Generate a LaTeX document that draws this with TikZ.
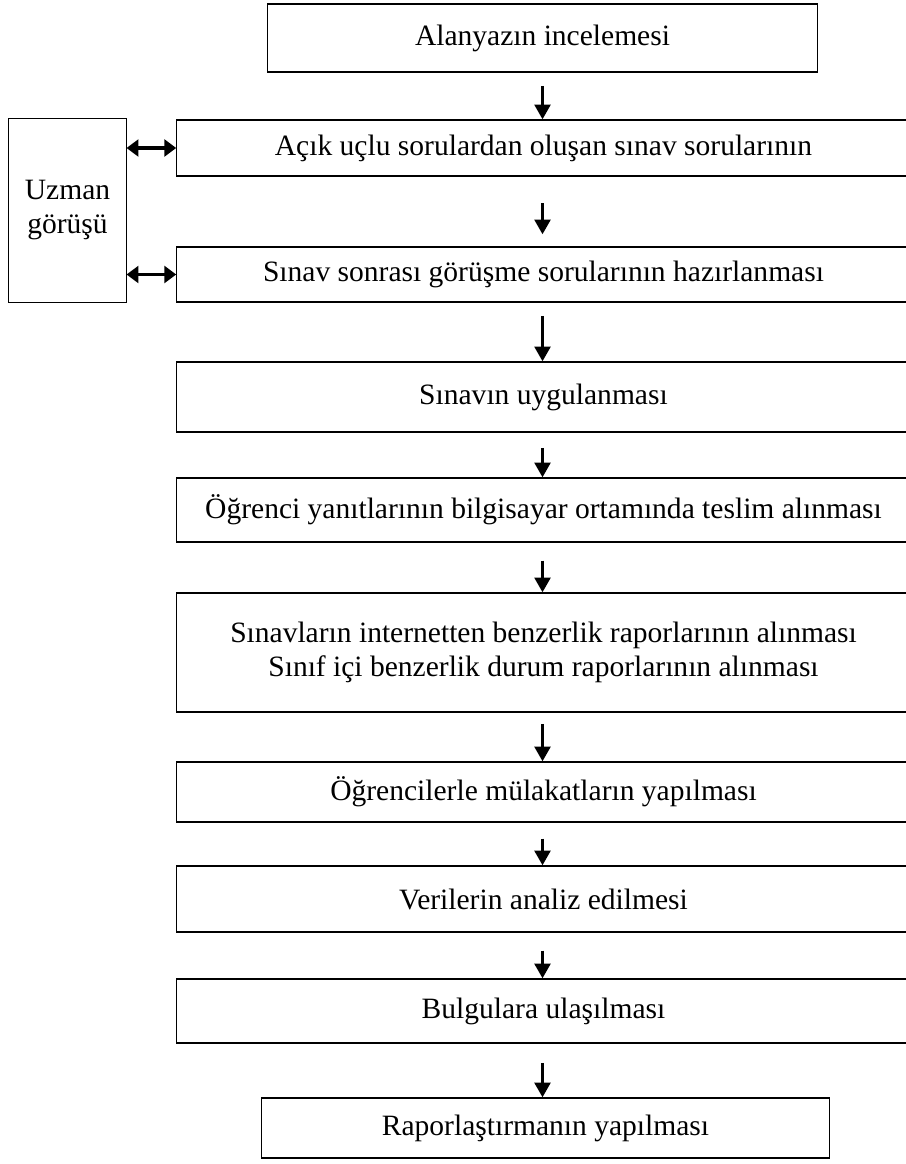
\documentclass[tikz,border=0pt]{standalone}
\usepackage{fontspec}
\setmainfont{Liberation Serif}
\usetikzlibrary{arrows.meta}

\begin{document}
\begin{tikzpicture}[x=0.025cm, y=-0.025cm,
  kutu/.style={draw, line width=0.8pt, inner sep=0pt, align=center, font=\fontsize{21}{24.5}\selectfont},
  genis/.style={kutu, minimum width=18.33cm},
  ok/.style={line width=2.6pt, -{Triangle[length=10.5pt,width=11pt]}},
  ciftok/.style={line width=2.6pt, {Triangle[length=8.5pt,width=12pt]}-{Triangle[length=8.5pt,width=12pt]}}]
\useasboundingbox (0,0) rectangle (906,1164);
\node[kutu, minimum width=13.73cm, minimum height=1.7cm] (lit) at (542.5,38) {Alanyazın incelemesi};
\node[genis, minimum height=1.4cm] (acik) at (543.5,148) {Açık uçlu sorulardan oluşan sınav sorularının};
\node[genis, minimum height=1.375cm] (gorusme) at (543.5,274.5) {Sınav sonrası görüşme sorularının hazırlanması};
\node[genis, minimum height=1.75cm] (uygula) at (543.5,397) {Sınavın uygulanması};
\node[genis, minimum height=1.6cm] (teslim) at (543.5,510) {Öğrenci yanıtlarının bilgisayar ortamında teslim alınması};
\node[genis, minimum height=2.975cm] (rapor) at (543.5,652.5) {Sınavların internetten benzerlik raporlarının alınması\\Sınıf içi benzerlik durum raporlarının alınması};
\node[genis, minimum height=1.5cm] (mulakat) at (543.5,792) {Öğrencilerle mülakatların yapılması};
\node[genis, minimum height=1.65cm] (analiz) at (543.5,899) {Verilerin analiz edilmesi};
\node[genis, minimum height=1.6cm] (bulgu) at (543.5,1011) {Bulgulara ulaşılması};
\node[kutu, minimum width=14.18cm, minimum height=1.5cm] (sonrapor) at (545.5,1128) {Raporlaştırmanın yapılması};
\node[kutu, line width=0.6pt, minimum width=2.93cm, minimum height=4.6cm] (uzman) at (67.5,210) {Uzman\\görüşü};
% akis oklari
\draw[ok] ([yshift=-3.3mm]lit.south) -- (lit.south |- acik.north);
\draw[ok] ([yshift=-6.7mm]lit.south |- acik.south) -- ([yshift=3mm]lit.south |- gorusme.north);
\draw[ok] ([yshift=-3.3mm]lit.south |- gorusme.south) -- (lit.south |- uygula.north);
\draw[ok] ([yshift=-3.8mm]lit.south |- uygula.south) -- (lit.south |- teslim.north);
\draw[ok] ([yshift=-4.5mm]lit.south |- teslim.south) -- (lit.south |- rapor.north);
\draw[ok] ([yshift=-2.8mm]lit.south |- rapor.south) -- (lit.south |- mulakat.north);
\draw[ok] ([yshift=-4mm]lit.south |- mulakat.south) -- (lit.south |- analiz.north);
\draw[ok] ([yshift=-4.5mm]lit.south |- analiz.south) -- (lit.south |- bulgu.north);
\draw[ok] ([yshift=-4.8mm]lit.south |- bulgu.south) -- (lit.south |- sonrapor.north);
% uzman gorusu
\draw[ciftok] (uzman.east |- acik.west) -- (acik.west);
\draw[ciftok] (uzman.east |- gorusme.west) -- (gorusme.west);
\end{tikzpicture}
\end{document}
